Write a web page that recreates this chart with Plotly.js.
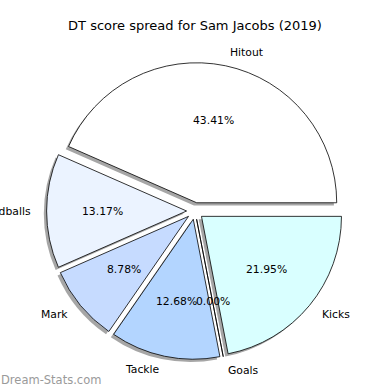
<!DOCTYPE html>
<html>
<head>
<meta charset="utf-8">
<script src="https://cdn.plot.ly/plotly-3.0.1.min.js"></script>
<style>html,body{margin:0;padding:0;background:#fff;}#chart{width:390px;height:390px;}</style>
</head>
<body>
<div id="chart"></div>
<script>
const labels = ["Hitout", "Handballs", "Mark", "Tackle", "Goals", "Kicks"];
const values = [43.41, 13.17, 8.78, 12.68, 0.00, 21.95];
const colors = ["#ffffff", "#ebf3ff", "#c6dbff", "#b3d5ff", "#a0c8ff", "#d9ffff"];

const W = 390, H = 390;
const cx = 195, cy = 211;     // pie centre in pixels
const R = 140;                // radius in pixels
const pull = 0.06;
const half = R * (1 + pull);
const shOff = 2.8;

const total = values.reduce((a, b) => a + b, 0);
// first slice starts at 3 o'clock and runs counterclockwise
const rot = 90 - values[0] / total * 360;

function dom(dx, dy) {
  return {
    x: [(cx + dx - half) / W, (cx + dx + half) / W],
    y: [1 - (cy + dy + half) / H, 1 - (cy + dy - half) / H]
  };
}

const common = {
  type: 'pie', values: values, labels: labels, sort: false,
  direction: 'counterclockwise', rotation: rot,
  pull: values.map(() => pull), textinfo: 'none', hoverinfo: 'skip',
  showlegend: false
};

const shadow = Object.assign({}, common, {
  domain: dom(-shOff, shOff),
  marker: {colors: values.map(() => '#a6a6a6'), line: {width: 0}}
});
const main = Object.assign({}, common, {
  domain: dom(0, 0),
  marker: {colors: colors, line: {color: '#000000', width: 0.8}}
});

// label / percent annotations computed from the data (matplotlib-style)
const annotations = [];
let start = 0;
const font = {family: 'DejaVu Sans', size: 10.8, color: '#000'};
values.forEach((v, i) => {
  const frac = v / total;
  const mid = (start + frac / 2) * 2 * Math.PI;
  start += frac;
  const c = Math.cos(mid), s = Math.sin(mid);
  const ex = cx + pull * R * c, ey = cy - pull * R * s;
  const lx = ex + 1.1 * R * c, ly = ey - 1.1 * R * s;
  const px = ex + 0.6 * R * c, py = ey - 0.6 * R * s;
  annotations.push({
    xref: 'paper', yref: 'paper', x: lx / W, y: 1 - ly / H,
    text: labels[i], showarrow: false, xanchor: lx > cx ? 'left' : 'right',
    yanchor: 'middle', font: font
  });
  annotations.push({
    xref: 'paper', yref: 'paper', x: px / W, y: 1 - py / H,
    text: (frac * 100).toFixed(2) + '%', showarrow: false,
    xanchor: 'center', yanchor: 'middle', font: font
  });
});
annotations.push({
  xref: 'paper', yref: 'paper', x: -0.003, y: 1 - 380 / H,
  text: 'Dream-Stats.com', showarrow: false, xanchor: 'left', yanchor: 'middle',
  font: {family: 'DejaVu Sans', size: 11.5, color: '#9a9a9a'}
});

const layout = {
  width: W, height: H,
  margin: {l: 0, r: 0, t: 0, b: 0},
  paper_bgcolor: '#ffffff',
  title: {text: 'DT score spread for Sam Jacobs (2019)', x: 0.5, xanchor: 'center',
          y: 1 - 25 / H, yanchor: 'middle',
          font: {family: 'DejaVu Sans', size: 13, color: '#000'}},
  annotations: annotations
};

Plotly.newPlot('chart', [shadow, main], layout, {staticPlot: true, displayModeBar: false});
</script>
</body>
</html>
